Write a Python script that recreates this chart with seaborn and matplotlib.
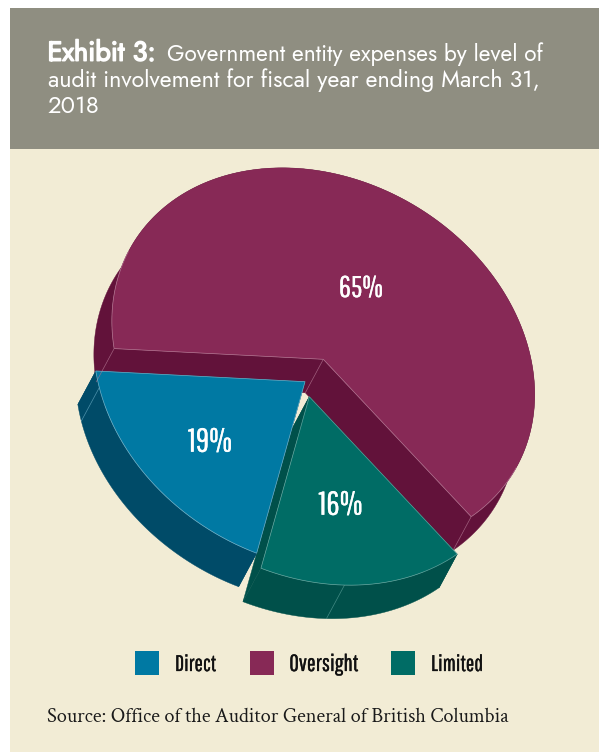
import numpy as np
import matplotlib
matplotlib.use("Agg")
import matplotlib.pyplot as plt
import matplotlib.patheffects as pe
from matplotlib.patches import Polygon, Rectangle
from matplotlib import font_manager as fm
import seaborn as sns

# Share of government entity expenses by level of audit involvement
categories = ["Oversight", "Limited", "Direct"]
shares = [65, 16, 19]
legend_order = ["Direct", "Oversight", "Limited"]
top_colors = ["#872956", "#006C65", "#0079A3"]
side_colors = ["#62123A", "#00504A", "#004B68"]

title_bold = "Exhibit 3:"
title_lines = ["Government entity expenses by level of",
               "audit involvement for fiscal year ending March 31,",
               "2018"]
source_text = "Source: Office of the Auditor General of British Columbia"

CREAM = "#F2ECD5"
HEADER = "#8F8E81"

sns.set_theme(style="white")
installed = {f.name for f in fm.fontManager.ttflist}


def pick(*options):
    for name in options:
        if name in installed:
            return name
    return "DejaVu Sans"


GEOMETRIC = pick("Jost", "Questrial", "Lato")
CONDENSED = pick("Pathway Gothic One", "Oswald", "Barlow Condensed", "Liberation Sans Narrow", "Liberation Sans")
SERIF = pick("Crimson Text", "EB Garamond", "Liberation Serif")

fig = plt.figure(figsize=(5.99, 7.52), dpi=100, facecolor="white")
ax = fig.add_axes([0, 0, 1, 1])
ax.set_xlim(0, 599)
ax.set_ylim(752, 0)
ax.axis("off")
renderer = fig.canvas.get_renderer()

ax.add_patch(Rectangle((10, 149), 589, 603, fc=CREAM, ec="none"))
ax.add_patch(Rectangle((10, 8), 589, 141, fc=HEADER, ec="none"))


def fitted(x, y, s, width, heavier=0.0, **kw):
    """Place text, scale its size to span the given width, optionally thicken it."""
    t = ax.text(x, y, s, **kw)
    w = t.get_window_extent(renderer).width
    t.set_fontsize(t.get_fontsize() * width / w)
    if heavier:
        t.set_path_effects([pe.withStroke(linewidth=heavier, foreground=t.get_color())])
    return t


# Tilted ellipse of the pie's top face, and the extrusion of its wall
A, B, PHI = 222.0, 177.5, np.radians(30.5)
LIFT = -1.5
DEPTH = np.array([-18.0, 33.5])
START = 146.4
APEX = {"Oversight": (323.3, 359.3), "Limited": (309.3, 396.7), "Direct": (305.0, 381.7)}
EDGE = {"Oversight": "#B0708F", "Limited": "#5FA39D", "Direct": "#6FB0C8"}


def rim(apex, t):
    t = np.radians(t)
    ex, ey = A * np.cos(t), B * np.sin(t)
    return np.column_stack([apex[0] + ex * np.cos(PHI) - ey * np.sin(PHI),
                            apex[1] + LIFT + ex * np.sin(PHI) + ey * np.cos(PHI)])


def wall_faces_viewer(t):
    """True where the rim's outward normal leans along the extrusion."""
    t = np.radians(t)
    nx, ny = np.cos(t) / A, np.sin(t) / B
    wx = nx * np.cos(PHI) - ny * np.sin(PHI)
    wy = nx * np.sin(PHI) + ny * np.cos(PHI)
    return wx * DEPTH[0] + wy * DEPTH[1] > 0


def thin(points, name, alpha=1.0):
    ax.plot(points[:, 0], points[:, 1], color=EDGE[name], lw=0.5, alpha=alpha,
            solid_capstyle="butt")


def slice_3d(name, t0, t1, top, side, seams):
    apex = np.array(APEX[name])
    ts = np.linspace(t0, t1, 240)
    arc = rim(apex, ts)
    wall = np.vstack([arc, (arc + DEPTH)[::-1]])
    cut_a = np.vstack([apex, arc[0], arc[0] + DEPTH, apex + DEPTH])
    cut_b = np.vstack([apex, arc[-1], arc[-1] + DEPTH, apex + DEPTH])
    for poly in (wall, cut_a, cut_b):
        ax.add_patch(Polygon(poly, closed=True, fc=side, ec=side, lw=0.3))
    for t in seams:
        p = rim(apex, np.array([t]))[0]
        thin(np.vstack([p, p + DEPTH]), name, 0.7)
    ax.add_patch(Polygon(np.vstack([apex, arc]), closed=True, fc=top, ec="none"))
    thin(np.vstack([arc[0], apex, arc[-1]]), name)
    # Outline the rim only along the stretches that border the wall
    visible = wall_faces_viewer(ts)
    edges = np.flatnonzero(np.diff(visible.astype(int)))
    for run in np.split(np.arange(len(ts)), edges + 1):
        if visible[run[0]] and len(run) > 1:
            thin(arc[run], name)


# Sweep clockwise from the left cut, each slice sized by its share
sweeps = [s / sum(shares) * 360 for s in shares]
bounds = START + np.concatenate([[0], np.cumsum(sweeps)])
seam_sets = {"Oversight": [bounds[0], bounds[1]], "Limited": [55.2 + 360], "Direct": [141.4 + 360]}
for i, name in enumerate(categories):
    slice_3d(name, bounds[i], bounds[i + 1], top_colors[i], side_colors[i], seam_sets[name])
# The apex edge of the oversight slice sits between its two cut faces
p = np.array(APEX["Oversight"])
thin(np.vstack([p, p + DEPTH]), "Oversight", 0.7)

# Percent labels, set on their baselines
label_xy = {"Oversight": (361, 297), "Limited": (340.5, 514.7), "Direct": (210, 451.7)}
for name, v in zip(categories, shares):
    x, y = label_xy[name]
    fitted(x, y, f"{v}%", 44, heavier=0.15, color="white", family=CONDENSED, fontsize=24,
           ha="center", va="baseline")

# Legend row
palette = dict(zip(categories, top_colors))
swatch_x = {"Direct": 135, "Oversight": 250, "Limited": 391}
text_x = {"Direct": 175, "Oversight": 289.3, "Limited": 431}
text_w = {"Direct": 41, "Oversight": 69, "Limited": 52}
for name in legend_order:
    ax.add_patch(Rectangle((swatch_x[name], 651), 24, 24, fc=palette[name], ec="none"))
    fitted(text_x[name], 671, name, text_w[name], heavier=0.2, family=CONDENSED,
           color="#111111", fontsize=17, va="baseline")

# Source line
fitted(46.7, 722, source_text, 460, family=SERIF, color="#1A1A1A",
       fontsize=13, va="baseline")

# Title block: heavy lead-in followed by the regular run
fitted(47.5, 60.7, title_bold, 108, heavier=1.1, family=GEOMETRIC, color="white",
       fontsize=15, va="baseline")
fitted(166.7, 60.7, title_lines[0], 375, family=GEOMETRIC, color="white", fontsize=15, va="baseline")
fitted(47.5, 87.3, title_lines[1], 490, family=GEOMETRIC, color="white", fontsize=15, va="baseline")
fitted(47.5, 113, title_lines[2], 52, family=GEOMETRIC, color="white", fontsize=15, va="baseline")

fig.savefig("out.png", dpi=100)
